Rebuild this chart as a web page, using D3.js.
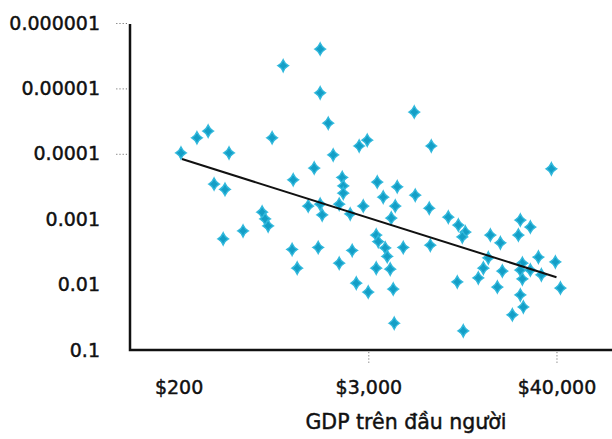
<!DOCTYPE html>
<html>
<head>
<meta charset="utf-8">
<script src="https://cdn.jsdelivr.net/npm/d3@7"></script>
<style>
  html, body { margin: 0; padding: 0; background: #fff; }
  svg { display: block; }
  text { font-family: "DejaVu Sans", Verdana, sans-serif; fill: #111; }
</style>
</head>
<body>
<svg id="chart" width="612" height="439"></svg>
<script>
// ---- Data ----
const gdpPerCapita = [207,260,305,411,760,890,332,388,1027,659,688,718,502,378,1011,1087,1272,1509,1509,1693,
  1386,1817,2633,2954,5779,7369,2067,2098,2098,3408,4532,3711,5861,7158,4407,2791,1980,1509,1553,2317,
  4163,3358,3456,3820,3929,4939,7267,1467,2383,1980,3358,4101,2526,2996,4281,4342,40906,9395,10842,11980,
  11474,17122,19755,26264,30304,25539,16627,15493,20314,14415,10680,18920,27037,26264,30304,33995,35454,43303,46541,27037,
  26264,27422,23436,11633];
const riskValues = [9.7e-5,5.7e-5,4.5e-5,9.7e-5,5.7e-5,4.5e-6,2.9e-4,3.5e-4,2.5e-4,7.8e-4,9.9e-4,1.27e-3,1.51e-3,2.0e-3,2.9e-3,5.6e-3,6.3e-4,2.5e-6,1.17e-5,3.4e-5,
  1.65e-4,1.04e-4,7.6e-5,6.2e-5,2.3e-5,7.6e-5,2.3e-4,3.1e-4,4.0e-4,2.7e-4,3.2e-4,4.6e-4,4.3e-4,6.8e-4,6.3e-4,6.3e-4,5.9e-4,5.9e-4,8.6e-4,8.3e-4,
  9.6e-4,1.75e-3,2.2e-3,2.75e-3,3.7e-3,2.7e-3,2.5e-3,2.7e-3,3.0e-3,4.7e-3,5.6e-3,5.8e-3,9.5e-3,1.3e-2,1.17e-2,3.9e-2,1.7e-4,9.3e-4,1.23e-3,1.57e-3,
  1.87e-3,1.75e-3,2.3e-3,1.03e-3,1.32e-3,1.75e-3,3.9e-3,5.6e-3,6.2e-3,7.9e-3,9.1e-3,1.09e-2,4.7e-3,6.0e-3,6.0e-3,3.8e-3,7.1e-3,4.5e-3,1.13e-2,8.2e-3,
  1.44e-2,2.2e-2,2.9e-2,5.1e-2];
const trendGdp = [210, 44000];
const trendRisk = [1.2e-4, 7.7e-3];

const xTickValues = [200, 3000, 44000];
const xTickLabels = ["$200", "$3,000", "$40,000"];
const yTickValues = [1e-6, 1e-5, 1e-4, 1e-3, 1e-2, 1e-1];
const yTickLabels = ["0.000001", "0.00001", "0.0001", "0.001", "0.01", "0.1"];
const xTitle = "GDP trên đầu người";

// ---- Layout ----
const svg = d3.select("#chart");
const axisX = 130, axisBottom = 350, axisTop = 24;

const x = d3.scaleLog().domain([100, 100000]).range([130, 614]);
const y = d3.scaleLog().domain([1e-6, 0.1]).range([23, 350]);

function styleText(sel, size) {
  sel.style("font-family", '"DejaVu Sans", Verdana, sans-serif')
     .style("font-size", size + "px")
     .attr("fill", "#111")
     .attr("stroke", "#111")
     .attr("stroke-width", 0.45);
}

// Y axis ticks + labels
const yAxis = d3.axisLeft(y)
  .tickValues(yTickValues)
  .tickFormat((d, i) => yTickLabels[i])
  .tickSize(11)
  .tickPadding(16);
const gy = svg.append("g").attr("transform", "translate(127,0)").call(yAxis);
gy.select(".domain").remove();
gy.selectAll(".tick line")
  .attr("stroke", "#777")
  .attr("stroke-dasharray", "1.2,2")
  .attr("opacity", d => d < 1e-3 ? 1 : 0);
styleText(gy.selectAll(".tick text"), 19);

// X axis ticks + labels
const xAxis = d3.axisBottom(x)
  .tickValues(xTickValues)
  .tickFormat((d, i) => xTickLabels[i])
  .tickSize(11)
  .tickPadding(18);
const gx = svg.append("g").attr("transform", "translate(0,352)").call(xAxis);
gx.select(".domain").remove();
gx.selectAll(".tick line")
  .attr("stroke", "#777")
  .attr("stroke-dasharray", "1.2,2")
  .attr("opacity", d => d > 1000 ? 1 : 0);
styleText(gx.selectAll(".tick text"), 19);

// Axis lines
svg.append("path")
  .attr("d", `M${axisX},${axisTop} V${axisBottom} H612`)
  .attr("fill", "none")
  .attr("stroke", "#111")
  .attr("stroke-width", 2.5);

// Axis title
styleText(svg.append("text")
  .attr("x", 406).attr("y", 429)
  .attr("text-anchor", "middle")
  .text(xTitle), 20.5);

// Points
const diamond = "M0,-6 Q1.8,-1.8 5.2,0 Q1.8,1.8 0,6 Q-1.8,1.8 -5.2,0 Q-1.8,-1.8 0,-6Z";
const pts = gdpPerCapita.map((g, i) => ({ g, r: riskValues[i] }));
svg.append("g").selectAll("path")
  .data(pts)
  .join("path")
  .attr("d", diamond)
  .attr("transform", d => `translate(${x(d.g)},${y(d.r)})`)
  .attr("fill", "#149ec6")
  .attr("stroke", "#30b8dc")
  .attr("stroke-width", 1.4);

// Trend line
const line = d3.line().x(d => x(d[0])).y(d => y(d[1]));
svg.append("path")
  .datum(trendGdp.map((g, i) => [g, trendRisk[i]]))
  .attr("d", line)
  .attr("fill", "none")
  .attr("stroke", "#111")
  .attr("stroke-width", 2);
</script>
</body>
</html>
